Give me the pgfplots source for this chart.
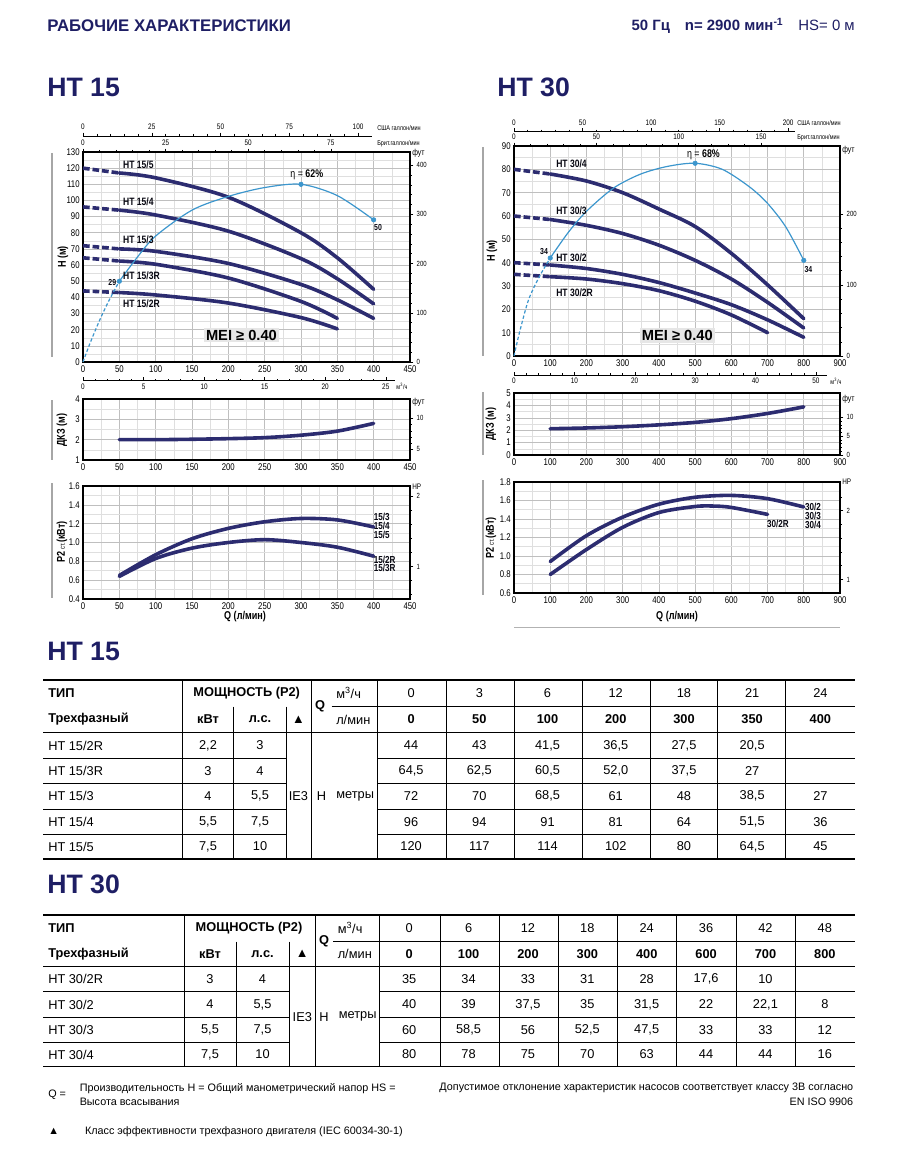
\documentclass[border=0pt]{standalone}
\usepackage{fontspec}
\setmainfont{Liberation Sans}
\newfontfamily\cond[FakeStretch=0.8]{Liberation Sans}
\usepackage{pgfplots}
\pgfplotsset{compat=1.18}
\definecolor{navy}{RGB}{44,44,112}
\definecolor{effblue}{RGB}{60,150,205}
\definecolor{ttl}{RGB}{30,30,100}
\definecolor{meigray}{RGB}{230,230,230}
\pgfplotsset{
 base/.style={scale only axis, clip=false, anchor=south west,
   /pgf/number format/assume math mode=true},
 chart/.style={base, axis line style={line width=1.1pt},
   grid=both, major grid style={draw=gray!50,line width=0.45pt},
   minor grid style={draw=gray!25,line width=0.4pt},
   major tick length=0pt, minor tick length=0pt,
   tick label style={font=\cond\fontsize{7.3}{8}\selectfont},
   xticklabel style={yshift=1pt}, yticklabel style={xshift=1pt}},
 rt/.style={base, axis x line=none, axis y line*=right, axis line style={draw=none},
   xmin=0, xmax=1, ytick align=outside, major tick length=2.5pt, minor tick length=1.4pt,
   tick style={black,line width=0.35pt},
   yticklabel style={font=\cond\fontsize{5.6}{6}\selectfont, xshift=-1pt}},
 topax/.style={base, anchor=north west, height=0.75pt, hide y axis, ymin=0, ymax=1,
   axis x line*=top, xtick align=outside, major tick length=2.6pt, minor tick length=1.6pt,
   tick style={black,line width=0.35pt}, axis line style={line width=0.4pt},
   xticklabel style={font=\cond\fontsize{6}{6}\selectfont, yshift=-1.5pt}, minor x tick num=4},
 mqax/.style={base, anchor=south west, height=0.75pt, hide y axis, ymin=0, ymax=1,
   axis x line*=bottom, xtick align=inside, major tick length=2.6pt, minor tick length=1.6pt,
   tick style={black,line width=0.35pt}, axis line style={line width=0.4pt},
   xticklabel style={font=\cond\fontsize{6}{6}\selectfont, yshift=1pt}, minor x tick num=4},
 crv/.style={navy, line width=2.7pt, smooth, line cap=round},
 dsh/.style={navy, line width=2.7pt, dash pattern=on 5pt off 2.2pt},
 eff/.style={effblue, line width=0.9pt, smooth},
 effd/.style={effblue, line width=0.9pt, smooth, dash pattern=on 2.5pt off 1.6pt},
 effm/.style={only marks, mark=*, mark size=1.7pt, color=effblue},
}
\tikzset{
 lbl/.style={font=\cond\bfseries\fontsize{8}{9}\selectfont, text=black!85!navy, inner sep=0pt},
 slbl/.style={font=\cond\bfseries\fontsize{7.6}{8}\selectfont, text=black!85!navy, inner sep=0pt},
 ylab/.style={rotate=90, font=\cond\bfseries\fontsize{8.5}{9}\selectfont, inner sep=0pt},
 unit/.style={font=\cond\fontsize{5.2}{6}\selectfont, inner sep=0pt},
 mei/.style={fill=meigray, font=\bfseries\fontsize{11}{12}\selectfont, inner sep=1.6pt},
 deco/.style={draw=gray!70, line width=0.8pt},
}
\newcommand\tf{\fontsize{9.6}{11}\selectfont}
\begin{document}
\begin{tikzpicture}[x=0.75pt,y=-0.75pt]
\useasboundingbox (0,0) rectangle (906,1151);
% ---------- headings
\node[anchor=west, text=ttl, font=\bfseries\fontsize{12.6}{13}\selectfont, inner sep=0] at (47,26) {РАБОЧИЕ ХАРАКТЕРИСТИКИ};
\node[anchor=east, text=ttl, font=\fontsize{11.2}{12}\selectfont, inner sep=0] at (855,26) {\textbf{50 Гц\quad n= 2900 мин\textsuperscript{-1}}\quad HS= 0 м};
\node[anchor=west, text=ttl, font=\bfseries\fontsize{20}{22}\selectfont, inner sep=0] at (47,87) {HT 15};
\node[anchor=west, text=ttl, font=\bfseries\fontsize{20}{22}\selectfont, inner sep=0] at (497,87) {HT 30};
\node[anchor=west, text=ttl, font=\bfseries\fontsize{20}{22}\selectfont, inner sep=0] at (47,651) {HT 15};
\node[anchor=west, text=ttl, font=\bfseries\fontsize{20}{22}\selectfont, inner sep=0] at (47,884) {HT 30};

% =================== HT 15 =====================
\begin{axis}[topax, at={({83*0.75pt},{-136*0.75pt})}, width=216.75pt, xmin=0, xmax=105.07, xtick={0,25,50,75,100}]\end{axis}
\begin{axis}[topax, at={({83*0.75pt},{-152*0.75pt})}, width=216.75pt, xmin=0, xmax=87.48, xtick={0,25,50,75}]\end{axis}
\node[unit, anchor=west] at (377,128) {США галлон/мин};
\node[unit, anchor=west] at (377,143.5) {Брит.галлон/мин};
\begin{axis}[rt, at={({83*0.75pt},{-362*0.75pt})}, width=245.25pt, height=157.5pt, ymin=0, ymax=426.51, ytick={0,100,...,400}, minor y tick num=4]\end{axis}
\node[unit, anchor=west, font=\cond\fontsize{6.5}{7}\selectfont] at (412,153) {фут};
\begin{axis}[chart, at={({83*0.75pt},{-362*0.75pt})}, width=245.25pt, height=157.5pt, xmin=0,xmax=450,ymin=0,ymax=130,
  xtick={0,50,...,450}, ytick={0,10,...,130}, minor xtick={25,75,...,425}, minor ytick={5,15,...,125}]
 \addplot[dsh] coordinates {(0,120)(50,117)};
 \addplot[dsh] coordinates {(0,96)(50,94)};
 \addplot[dsh] coordinates {(0,72)(50,70)};
 \addplot[dsh] coordinates {(0,64.5)(50,62.5)};
 \addplot[dsh] coordinates {(0,44)(50,43)};
 \addplot[crv] coordinates {(50,117)(100,114)(200,102)(300,80)(350,64.5)(400,45)};
 \addplot[crv] coordinates {(50,94)(100,91)(200,81)(300,64)(350,51.5)(400,36)};
 \addplot[crv] coordinates {(50,70)(100,68.5)(200,61)(300,48)(350,38.5)(400,27)};
 \addplot[crv] coordinates {(50,62.5)(100,60.5)(200,52)(300,37.5)(350,27)};
 \addplot[crv] coordinates {(50,43)(100,41.5)(200,36.5)(300,27.5)(350,20.5)};
 \addplot[effd] coordinates {(0,0)(10,12)(25,28)(38,40)(50,50)};
 \addplot[eff] coordinates {(50,50)(75,65)(100,78)(150,94)(200,102.5)(250,108)(300,110)(350,103)(400,88)};
 \addplot[effm] coordinates {(50,50)(300,110)(400,88)};
 \node[lbl, anchor=west] at (axis cs:55,122) {HT 15/5};
 \node[lbl, anchor=west] at (axis cs:55,99) {HT 15/4};
 \node[lbl, anchor=west] at (axis cs:55,75.5) {HT 15/3};
 \node[lbl, anchor=west] at (axis cs:55,53.5) {HT 15/3R};
 \node[lbl, anchor=west] at (axis cs:55,36) {HT 15/2R};
 \node[font=\cond\fontsize{8.3}{9}\selectfont, inner sep=0] at (axis cs:308,116) {η = \textbf{62\%}};
 \node[slbl, font=\cond\bfseries\fontsize{6.5}{7}\selectfont] at (axis cs:406,83.5) {50};
 \node[slbl, font=\cond\bfseries\fontsize{6.5}{7}\selectfont, anchor=east] at (axis cs:46,49) {29};
 \node[mei] at (axis cs:218,16.7) {MEI ≥ 0.40};
\end{axis}
\draw[deco] (52,153) -- (52,357);
\node[ylab] at (63,257) {H (м)};

% DKZ 15
\begin{axis}[mqax, at={({83*0.75pt},{-380.7*0.75pt})}, width=234pt, xmin=0, xmax=25.76, xtick={0,5,...,25}]\end{axis}
\node[unit] at (402,386) {м\textsuperscript{3}/ч};
\begin{axis}[rt, at={({83*0.75pt},{-460*0.75pt})}, width=245.25pt, height=45.75pt, ymin=3.281, ymax=13.123, ytick={5,10}, minor y tick num=4]\end{axis}
\node[unit, anchor=west, font=\cond\fontsize{6.5}{7}\selectfont] at (412,402) {фут};
\begin{axis}[chart, at={({83*0.75pt},{-460*0.75pt})}, width=245.25pt, height=45.75pt, xmin=0,xmax=450,ymin=1,ymax=4,
  xtick={0,50,...,450}, ytick={1,2,3,4}, minor xtick={25,75,...,425}, minor ytick={1.5,2.5,3.5}]
 \addplot[crv] coordinates {(50,2.0)(100,2.0)(150,2.02)(200,2.05)(250,2.1)(300,2.22)(350,2.42)(400,2.8)};
\end{axis}
\draw[deco] (52,400) -- (52,460);
\node[ylab] at (62,430) {ДКЗ (м)};

% P2 15
\begin{axis}[rt, at={({83*0.75pt},{-599*0.75pt})}, width=245.25pt, height=84.75pt, ymin=0.5364, ymax=2.1456, ytick={1,2}, minor ytick={0.6,0.8,1.2,1.4,1.6,1.8}]\end{axis}
\node[unit, anchor=west, font=\cond\fontsize{6}{7}\selectfont] at (412,487) {HP};
\begin{axis}[chart, at={({83*0.75pt},{-599*0.75pt})}, width=245.25pt, height=84.75pt, xmin=0,xmax=450,ymin=0.4,ymax=1.6,
  xtick={0,50,...,450}, ytick={0.4,0.6,0.8,1.0,1.2,1.4,1.6}, minor xtick={25,75,...,425},
  minor ytick={0.5,0.7,0.9,1.1,1.3,1.5},
  yticklabel style={/pgf/number format/.cd, fixed, fixed zerofill, precision=1}]
 \addplot[crv] coordinates {(50,0.65)(100,0.87)(150,1.04)(200,1.15)(250,1.22)(300,1.255)(350,1.24)(400,1.165)};
 \addplot[crv] coordinates {(50,0.64)(100,0.83)(150,0.94)(200,1.0)(250,1.03)(300,1.0)(350,0.95)(400,0.855)};
 \node[slbl, anchor=west] at (axis cs:400,1.274) {15/3};
 \node[slbl, anchor=west] at (axis cs:400,1.178) {15/4};
 \node[slbl, anchor=west] at (axis cs:400,1.08) {15/5};
 \node[slbl, anchor=west] at (axis cs:400,0.82) {15/2R};
 \node[slbl, anchor=west] at (axis cs:400,0.725) {15/3R};
\end{axis}
\draw[deco] (52,483) -- (52,598);
\node[ylab] at (62,542) {P2 {\mdseries\fontsize{5.5}{6}\selectfont ст.}(кВт)};
\node[font=\cond\bfseries\fontsize{8.5}{9}\selectfont] at (245,617) {Q (л/мин)};

% =================== HT 30 =====================
\begin{axis}[topax, at={({514*0.75pt},{-131.7*0.75pt})}, width=210.75pt, xmin=0, xmax=205, xtick={0,50,100,150,200}, minor x tick num=4]\end{axis}
\begin{axis}[topax, at={({514*0.75pt},{-146*0.75pt})}, width=210.75pt, xmin=0, xmax=170.6, xtick={0,50,100,150}]\end{axis}
\node[unit, anchor=west] at (797,123) {США галлон/мин};
\node[unit, anchor=west] at (797,137.5) {Брит.галлон/мин};
\begin{axis}[rt, at={({514*0.75pt},{-356*0.75pt})}, width=244.5pt, height=157.5pt, ymin=0, ymax=295.28, ytick={0,100,200}, minor y tick num=4]\end{axis}
\node[unit, anchor=west, font=\cond\fontsize{6.5}{7}\selectfont] at (842,150) {фут};
\begin{axis}[chart, at={({514*0.75pt},{-356*0.75pt})}, width=244.5pt, height=157.5pt, xmin=0,xmax=900,ymin=0,ymax=90,
  xtick={0,100,...,900}, ytick={0,10,...,90}, minor xtick={50,150,...,850}, minor ytick={5,15,...,85}]
 \addplot[dsh] coordinates {(0,80)(100,78)};
 \addplot[dsh] coordinates {(0,60)(100,58.5)};
 \addplot[dsh] coordinates {(0,40)(100,39)};
 \addplot[dsh] coordinates {(0,35)(100,34)};
 \addplot[crv] coordinates {(100,78)(200,75)(300,70)(400,63)(500,55.5)(600,44)(700,30.5)(800,16)};
 \addplot[crv] coordinates {(100,58.5)(200,56)(300,52.5)(400,47.5)(500,41)(600,33)(700,23)(800,12)};
 \addplot[crv] coordinates {(100,39)(200,37.5)(300,35)(400,31.5)(500,27)(600,22)(700,15.5)(800,8)};
 \addplot[crv] coordinates {(100,34)(200,33)(300,31)(400,28)(500,23.5)(600,17.6)(700,10)};
 \addplot[effd] coordinates {(0,0)(15,10)(40,24)(70,34)(100,42)};
 \addplot[eff] coordinates {(100,42)(150,53)(200,62)(275,72)(350,78)(425,81.3)(500,82.6)(575,80)(650,72.5)(700,65.4)(750,55.4)(800,41)};
 \addplot[effm] coordinates {(100,42)(500,82.6)(800,41)};
 \node[lbl, anchor=west] at (axis cs:116,82.2) {HT 30/4};
 \node[lbl, anchor=west] at (axis cs:116,62.1) {HT 30/3};
 \node[lbl, anchor=west] at (axis cs:116,41.9) {HT 30/2};
 \node[lbl, anchor=west] at (axis cs:116,27.1) {HT 30/2R};
 \node[font=\cond\fontsize{8.3}{9}\selectfont, inner sep=0] at (axis cs:523,86.2) {η = \textbf{68\%}};
 \node[slbl, font=\cond\bfseries\fontsize{6.5}{7}\selectfont] at (axis cs:83,44.7) {34};
 \node[slbl, font=\cond\bfseries\fontsize{6.5}{7}\selectfont] at (axis cs:813,36.9) {34};
 \node[mei] at (axis cs:451,8.9) {MEI ≥ 0.40};
\end{axis}
\draw[deco] (483,147) -- (483,356);
\node[ylab] at (492,251) {H (м)};

% DKZ 30
\begin{axis}[mqax, at={({514*0.75pt},{-375*0.75pt})}, width=234.75pt, xmin=0, xmax=51.85, xtick={0,10,...,50}]\end{axis}
\node[unit] at (836,381) {м\textsuperscript{3}/ч};
\begin{axis}[rt, at={({514*0.75pt},{-455*0.75pt})}, width=244.5pt, height=46.5pt, ymin=0, ymax=16.404, ytick={0,5,10}, minor y tick num=4]\end{axis}
\node[unit, anchor=west, font=\cond\fontsize{6.5}{7}\selectfont] at (842,399) {фут};
\begin{axis}[chart, at={({514*0.75pt},{-455*0.75pt})}, width=244.5pt, height=46.5pt, xmin=0,xmax=900,ymin=0,ymax=5,
  xtick={0,100,...,900}, ytick={0,1,...,5}, minor xtick={50,150,...,850}, minor ytick={0.5,1.5,2.5,3.5,4.5}]
 \addplot[crv] coordinates {(100,2.12)(200,2.18)(300,2.28)(400,2.43)(500,2.63)(600,2.93)(700,3.35)(800,3.88)};
\end{axis}
\draw[deco] (483,392) -- (483,455);
\node[ylab] at (491,424) {ДКЗ (м)};

% P2 30
\begin{axis}[rt, at={({514*0.75pt},{-593*0.75pt})}, width=244.5pt, height=83.25pt, ymin=0.8046, ymax=2.4138, ytick={1,2}, minor ytick={1.2,1.4,1.6,1.8,2.2}]\end{axis}
\node[unit, anchor=west, font=\cond\fontsize{6}{7}\selectfont] at (842,482) {HP};
\begin{axis}[chart, at={({514*0.75pt},{-593*0.75pt})}, width=244.5pt, height=83.25pt, xmin=0,xmax=900,ymin=0.6,ymax=1.8,
  xtick={0,100,...,900}, ytick={0.6,0.8,1.0,1.2,1.4,1.6,1.8}, minor xtick={50,150,...,850},
  minor ytick={0.7,0.9,1.1,1.3,1.5,1.7},
  yticklabel style={/pgf/number format/.cd, fixed, fixed zerofill, precision=1}]
 \addplot[crv] coordinates {(100,0.94)(200,1.22)(300,1.42)(400,1.56)(500,1.635)(600,1.655)(700,1.62)(800,1.53)};
 \addplot[crv] coordinates {(100,0.8)(200,1.07)(300,1.31)(400,1.47)(500,1.535)(550,1.54)(600,1.525)(700,1.45)};
 \node[slbl, anchor=west] at (axis cs:803,1.533) {30/2};
 \node[slbl, anchor=west] at (axis cs:803,1.436) {30/3};
 \node[slbl, anchor=west] at (axis cs:803,1.338) {30/4};
 \node[slbl, anchor=west] at (axis cs:698,1.346) {30/2R};
\end{axis}
\draw[deco] (483,480) -- (483,595);
\node[ylab] at (491,538) {P2 {\mdseries\fontsize{5.5}{6}\selectfont ст.}(кВт)};
\node[font=\cond\bfseries\fontsize{8.5}{9}\selectfont] at (677,617) {Q (л/мин)};
\draw[gray!60, line width=0.6pt] (514,627) -- (840,627);

% =================== TABLE HT 15 =====================
\begin{scope}[font=\tf, every node/.style={inner sep=0pt}]
\draw[line width=0.9pt] (43,680) -- (854.5,680);
\draw[line width=0.6pt] (331.7,706.7) -- (854.5,706.7);
\draw[line width=0.6pt] (43,732.7) -- (854.5,732.7);
\foreach \yy in {758.3,783.3,809.3,834} {\draw[line width=0.6pt] (43,\yy) -- (286,\yy) (377,\yy) -- (854.5,\yy);}
\draw[line width=0.9pt] (43,859) -- (854.5,859);
\foreach \xx in {182,311,377,446,514,582,650,717,785} {\draw[line width=0.6pt] (\xx,680) -- (\xx,859);}
\foreach \xx in {233.5,286} {\draw[line width=0.6pt] (\xx,706.7) -- (\xx,859);}
\node[anchor=west, font=\tf\bfseries] at (48,693) {ТИП};
\node[anchor=west, font=\tf\bfseries] at (48,719.5) {Трехфазный};
\node[font=\tf\bfseries] at (246.7,693) {МОЩНОСТЬ (P2)};
\node[font=\tf\bfseries] at (208,719.5) {кВт};
\node[font=\tf\bfseries] at (260,719.5) {л.с.};
\node at (298.5,719.5) {▲};
\node[font=\tf\bfseries] at (320,706.7) {Q};
\node[anchor=west] at (336,693) {м\textsuperscript{3}/ч};
\node[anchor=west] at (336,719.5) {л/мин};
\foreach \v [count=\k] in {0,3,6,12,18,21,24} {\node at ({377+(\k-0.5)*68.21},693) {\v};}
\foreach \v [count=\k] in {0,50,100,200,300,350,400} {\node[font=\tf\bfseries] at ({377+(\k-0.5)*68.21},719.5) {\v};}
\node at (298.5,796.3) {IE3};
\node at (321.5,796.3) {H};
\node[anchor=west] at (336,796.3) {метры};
% rows
\node[anchor=west] at (48,745.5) {HT 15/2R}; \node at (208,745.5) {2,2}; \node at (260,745.5) {3};
\foreach \v [count=\k] in {{44},{43},{41,5},{36,5},{27,5},{20,5}} {\node at ({377+(\k-0.5)*68.21},745.5) {\v};}
\node[anchor=west] at (48,770.8) {HT 15/3R}; \node at (208,770.8) {3}; \node at (260,770.8) {4};
\foreach \v [count=\k] in {{64,5},{62,5},{60,5},{52,0},{37,5},{27}} {\node at ({377+(\k-0.5)*68.21},770.8) {\v};}
\node[anchor=west] at (48,796.3) {HT 15/3}; \node at (208,796.3) {4}; \node at (260,796.3) {5,5};
\foreach \v [count=\k] in {{72},{70},{68,5},{61},{48},{38,5},{27}} {\node at ({377+(\k-0.5)*68.21},796.3) {\v};}
\node[anchor=west] at (48,821.7) {HT 15/4}; \node at (208,821.7) {5,5}; \node at (260,821.7) {7,5};
\foreach \v [count=\k] in {{96},{94},{91},{81},{64},{51,5},{36}} {\node at ({377+(\k-0.5)*68.21},821.7) {\v};}
\node[anchor=west] at (48,846.5) {HT 15/5}; \node at (208,846.5) {7,5}; \node at (260,846.5) {10};
\foreach \v [count=\k] in {{120},{117},{114},{102},{80},{64,5},{45}} {\node at ({377+(\k-0.5)*68.21},846.5) {\v};}

% =================== TABLE HT 30 =====================
\draw[line width=0.9pt] (43,915) -- (854.5,915);
\draw[line width=0.6pt] (333,941.7) -- (854.5,941.7);
\draw[line width=0.6pt] (43,966.7) -- (854.5,966.7);
\foreach \yy in {991.7,1017.3,1042.3} {\draw[line width=0.6pt] (43,\yy) -- (289,\yy) (379.5,\yy) -- (854.5,\yy);}
\draw[line width=0.9pt] (43,1066.7) -- (854.5,1066.7);
\foreach \xx in {184,315.6,379.5,440,499,558,617,676,736,795} {\draw[line width=0.6pt] (\xx,915) -- (\xx,1066.7);}
\foreach \xx in {236,289} {\draw[line width=0.6pt] (\xx,941.7) -- (\xx,1066.7);}
\node[anchor=west, font=\tf\bfseries] at (48,928.3) {ТИП};
\node[anchor=west, font=\tf\bfseries] at (48,954.2) {Трехфазный};
\node[font=\tf\bfseries] at (249,928.3) {МОЩНОСТЬ (P2)};
\node[font=\tf\bfseries] at (210,954.2) {кВт};
\node[font=\tf\bfseries] at (262.5,954.2) {л.с.};
\node at (302.3,954.2) {▲};
\node[font=\tf\bfseries] at (324,941.7) {Q};
\node[anchor=west] at (337.5,928.3) {м\textsuperscript{3}/ч};
\node[anchor=west] at (337.5,954.2) {л/мин};
\foreach \v [count=\k] in {0,6,12,18,24,36,42,48} {\node at ({379.5+(\k-0.5)*59.375},928.3) {\v};}
\foreach \v [count=\k] in {0,100,200,300,400,600,700,800} {\node[font=\tf\bfseries] at ({379.5+(\k-0.5)*59.375},954.2) {\v};}
\node at (302.3,1016.7) {IE3};
\node at (324,1016.7) {H};
\node[anchor=west] at (338.5,1016.7) {метры};
\node[anchor=west] at (48,979.2) {HT 30/2R}; \node at (210,979.2) {3}; \node at (262.5,979.2) {4};
\foreach \v [count=\k] in {{35},{34},{33},{31},{28},{17,6},{10}} {\node at ({379.5+(\k-0.5)*59.375},979.2) {\v};}
\node[anchor=west] at (48,1004.5) {HT 30/2}; \node at (210,1004.5) {4}; \node at (262.5,1004.5) {5,5};
\foreach \v [count=\k] in {{40},{39},{37,5},{35},{31,5},{22},{22,1},{8}} {\node at ({379.5+(\k-0.5)*59.375},1004.5) {\v};}
\node[anchor=west] at (48,1029.8) {HT 30/3}; \node at (210,1029.8) {5,5}; \node at (262.5,1029.8) {7,5};
\foreach \v [count=\k] in {{60},{58,5},{56},{52,5},{47,5},{33},{33},{12}} {\node at ({379.5+(\k-0.5)*59.375},1029.8) {\v};}
\node[anchor=west] at (48,1054.5) {HT 30/4}; \node at (210,1054.5) {7,5}; \node at (262.5,1054.5) {10};
\foreach \v [count=\k] in {{80},{78},{75},{70},{63},{44},{44},{16}} {\node at ({379.5+(\k-0.5)*59.375},1054.5) {\v};}
\end{scope}

% =================== FOOTNOTES =====================
\begin{scope}[font=\fontsize{8.1}{10}\selectfont, every node/.style={inner sep=0pt}]
\node[anchor=west] at (48,1095) {Q =};
\node[anchor=west] at (79.5,1088.3) {Производительность H = Общий манометрический напор HS =};
\node[anchor=west] at (79.5,1101.7) {Высота всасывания};
\node[anchor=east] at (853.5,1088.3) {Допустимое отклонение характеристик насосов соответствует классу 3B согласно};
\node[anchor=east] at (853.5,1101.7) {EN ISO 9906};
\node[anchor=west] at (48,1131.7) {▲};
\node[anchor=west] at (84.8,1131.7) {Класс эффективности трехфазного двигателя (IEC 60034-30-1)};
\end{scope}
\end{tikzpicture}
\end{document}
